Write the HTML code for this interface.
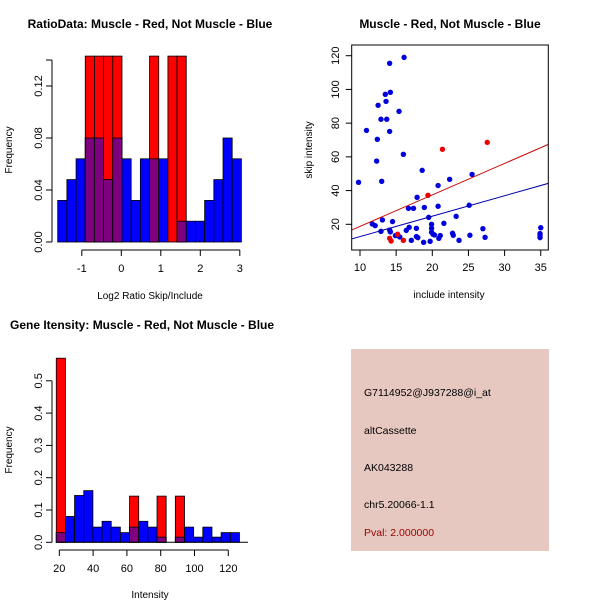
<!DOCTYPE html>
<html><head><meta charset="utf-8"><style>
body{margin:0;background:#fff}
svg{display:block;font-family:"Liberation Sans",Arial,sans-serif}
</style></head><body>
<svg id="c" width="600" height="600" viewBox="0 0 600 600">
<rect x="0" y="0" width="600" height="600" fill="#fff"/>
</svg>
<script>
// ---- Panel 1: ratio histogram ----
const ratioBins = 20;
const ratioStart = -1.61;
const ratioWidth = 0.2325;
const ratioBlue = [0.032,0.048,0.064,0.08,0.08,0.048,0.08,0.064,0.032,0.064,0.064,0.064,0,0.016,0.016,0.016,0.032,0.048,0.08,0.064];
const ratioRed  = [0,0,0,0.143,0.143,0.143,0.143,0,0,0,0.143,0,0.143,0.143,0,0,0,0,0,0];
const ratioXTicks = [-1,0,1,2,3];
const ratioYTicks = ["0.00","0.04","0.08","0.12"];
// ---- Panel 2: scatter ----
const blueX = [9.8,10.9,12.4,12.3,12.5,12.9,13.7,13.0,13.5,13.6,14.1,14.2,14.1,15.4,16.1,16.0,18.6,20.8,22.4,25.5,17.9,18.9,20.8,25.1,23.3,19.5,16.7,17.4,11.7,12.1,13.1,14.5,12.9,14.1,14.2,14.9,15.5,16.4,16.8,17.8,19.9,19.9,21.6,17.8,18.0,17.1,18.8,19.7,19.9,20.1,20.3,20.9,21.1,22.8,22.9,23.7,25.2,27.0,27.3,35,34.9,34.9,34.9];
const blueY = [44.9,75.7,70.4,57.5,90.6,82.3,82.3,45.5,97.1,92.9,115.5,98.3,75.1,87,119,61.5,52,43,46.7,49.6,36,30,30.7,31.3,24.7,24.1,29.5,29.5,20.2,19.2,22.6,21.6,15.8,16.6,15.5,13.3,12.5,16.4,18.2,17.6,20,17.6,20.6,12.7,12.1,10.5,9.3,9.9,15.3,14.1,13.7,11.7,13.3,14.7,13.5,10.5,13.5,17.4,12.3,18,14.5,13.3,12.1];
const redX = [14.1,14.3,15.2,16.0,19.4,21.4,27.6];
const redY = [11.7,10.1,14.1,10.5,37.2,64.5,68.6];
const redFit = [0.07,1.868];
const blueFit = [0.56,1.213];
const scatXTicks = [10,15,20,25,30,35];
const scatYTicks = [20,40,60,80,100,120];
// ---- Panel 3: intensity histogram ----
const intStart = 18.2;
const intWidth = 5.42;
const intBlue = [0.03,0.08,0.145,0.16,0.047,0.065,0.047,0.03,0.047,0.065,0.047,0.016,0,0.016,0.047,0.016,0.047,0.016,0.03,0.03];
const intRed  = [0.57,0,0,0,0,0,0,0,0.143,0,0,0.143,0,0.143,0,0,0,0,0,0];
const intXTicks = [20,40,60,80,100,120];
const intYTicks = ["0.0","0.1","0.2","0.3","0.4","0.5"];

const svg=document.getElementById('c');
const NS='http://www.w3.org/2000/svg';
function mk(tag,at,parent){const e=document.createElementNS(NS,tag);for(const k in at)e.setAttribute(k,at[k]);(parent||svg).appendChild(e);return e;}
function txt(s,x,y,o,parent){const t=mk('text',Object.assign({x:x,y:y,'font-size':11,fill:'#000'},o||{}),parent);t.textContent=s;return t;}

function hist(g,blue,red,start,w,xs,ys,base){
  blue.forEach((b,i)=>{
    const r=red[i];const x0=xs(start+i*w),x1=xs(start+(i+1)*w);
    if(b>0){const e=mk('rect',{x:x0,y:ys(b),width:x1-x0,height:base-ys(b),fill:'#0000ff',stroke:'#000','stroke-width':0.8},g);
      
      }
    if(r>0){const e=mk('rect',{x:x0,y:ys(r),width:x1-x0,height:base-ys(r),fill:'#ff0000',stroke:'#000','stroke-width':0.8},g);
      
      }
    const m=Math.min(b,r);
    if(m>0){const e=mk('rect',{x:x0,y:ys(m),width:x1-x0,height:base-ys(m),fill:'#7f007f',stroke:'#000','stroke-width':0.8},g);
      
      }
  });
}

// Panel 1
(function(){
  const g=mk('g',{});
  
  
  const xs=v=>121.3+v*39.5, ys=v=>242-v*1300;
  hist(g,ratioBlue,ratioRed,ratioStart,ratioWidth,xs,ys,242);
  mk('line',{x1:52,y1:242,x2:52,y2:ys(0.14),stroke:'#000'},g);
  mk('line',{x1:46,y1:ys(0.14),x2:52,y2:ys(0.14),stroke:'#000'},g);
  ratioYTicks.forEach(t=>{const y=ys(+t);mk('line',{x1:46,y1:y,x2:52,y2:y,stroke:'#000'},g);
    txt(t,42,y,{'text-anchor':'middle',transform:`rotate(-90 42 ${y})`},g);});
  mk('line',{x1:xs(-1),y1:250,x2:xs(3),y2:250,stroke:'#000'},g);
  ratioXTicks.forEach(t=>{const x=xs(t);mk('line',{x1:x,y1:250,x2:x,y2:256,stroke:'#000'},g);txt(String(t),x,272,{'text-anchor':'middle'},g);});
  const t1=txt('RatioData: Muscle - Red, Not Muscle - Blue',150,28,{'text-anchor':'middle','font-weight':'bold','font-size':12},g);
  
  const xl=txt('Log2 Ratio Skip/Include',150,299,{'text-anchor':'middle','font-size':10},g);
  
  const yl=txt('Frequency',12,150,{'text-anchor':'middle','font-size':10,transform:'rotate(-90 12 150)'},g);
  
})();

// Panel 2
(function(){
  const g=mk('g',{});
  
  
  const x0=351.7,x1=548.3,yT=45,yB=250;
  const xs=v=>360+(v-10)*7.23, ys=v=>224.3-(v-20)*1.686;
  const cp=mk('clipPath',{id:'cp'},g);mk('rect',{x:x0,y:yT,width:x1-x0,height:yB-yT},cp);
  blueX.forEach((v,i)=>{const e=mk('circle',{cx:xs(v),cy:ys(blueY[i]),r:2.7,fill:'#0000dd'},g);
    
    });
  redX.forEach((v,i)=>{const e=mk('circle',{cx:xs(v),cy:ys(redY[i]),r:2.7,fill:'#ee0000'},g);
    
    });
  [[redFit,'#cc0000','red-fit-line'],[blueFit,'#0000aa','blue-fit-line']].forEach(([f,c,n])=>{
    const a=8.5,b=37;const e=mk('line',{x1:xs(a),y1:ys(f[0]+f[1]*a),x2:xs(b),y2:ys(f[0]+f[1]*b),stroke:c,'clip-path':'url(#cp)'},g);
    
    });
  mk('rect',{x:x0,y:yT,width:x1-x0,height:yB-yT,fill:'none',stroke:'#000'},g);
  scatYTicks.forEach(t=>{const y=ys(t);mk('line',{x1:x0-6,y1:y,x2:x0,y2:y,stroke:'#000'},g);
    txt(String(t),339,y,{'text-anchor':'middle',transform:`rotate(-90 339 ${y})`},g);});
  scatXTicks.forEach(t=>{const x=xs(t);mk('line',{x1:x,y1:yB,x2:x,y2:yB+6,stroke:'#000'},g);txt(String(t),x,271,{'text-anchor':'middle'},g);});
  const t=txt('Muscle - Red, Not Muscle - Blue',450,28,{'text-anchor':'middle','font-weight':'bold','font-size':12},g);
  
  const xl=txt('include intensity',449,298,{'text-anchor':'middle','font-size':10},g);
  
  const yl=txt('skip intensity',312,150,{'text-anchor':'middle','font-size':10,transform:'rotate(-90 312 150)'},g);
  
})();

// Panel 3
(function(){
  const g=mk('g',{});
  
  
  const xs=v=>59.3+(v-20)*1.69, ys=v=>542.3-v*323;
  hist(g,intBlue,intRed,intStart,intWidth,xs,ys,542.3);
  mk('line',{x1:58.3,y1:542.3,x2:248,y2:542.3,stroke:'#000'},g);
  mk('line',{x1:52,y1:542.3,x2:52,y2:ys(0.5),stroke:'#000'},g);
  intYTicks.forEach(t=>{const y=ys(+t);mk('line',{x1:46,y1:y,x2:52,y2:y,stroke:'#000'},g);
    txt(t,42,y,{'text-anchor':'middle',transform:`rotate(-90 42 ${y})`},g);});
  mk('line',{x1:xs(20),y1:550,x2:xs(120),y2:550,stroke:'#000'},g);
  intXTicks.forEach(t=>{const x=xs(t);mk('line',{x1:x,y1:550,x2:x,y2:556,stroke:'#000'},g);txt(String(t),x,572,{'text-anchor':'middle'},g);});
  const t=txt('Gene Itensity: Muscle - Red, Not Muscle - Blue',10,329,{'font-weight':'bold','font-size':12},g);
  
  const xl=txt('Intensity',150,598,{'text-anchor':'middle','font-size':10},g);
  
  const yl=txt('Frequency',12,450,{'text-anchor':'middle','font-size':10,transform:'rotate(-90 12 450)'},g);
  
})();

// Panel 4: info box
(function(){
  const g=mk('g',{});
  
  
  mk('rect',{x:351,y:349,width:198,height:202,fill:'#e6c8c1'},g);
  const lines=[['G7114952@J937288@i_at',396,'#000','probe-id'],['altCassette',434,'#000','event-type'],['AK043288',471,'#000','accession'],['chr5.20066-1.1',508,'#000','locus'],['Pval: 2.000000',536,'#990000','p-value']];
  lines.forEach(([s,y,c,n])=>{const e=txt(s,364,y,{fill:c,'font-size':10.5},g);
    
    });
})();
</script>
</body></html>
